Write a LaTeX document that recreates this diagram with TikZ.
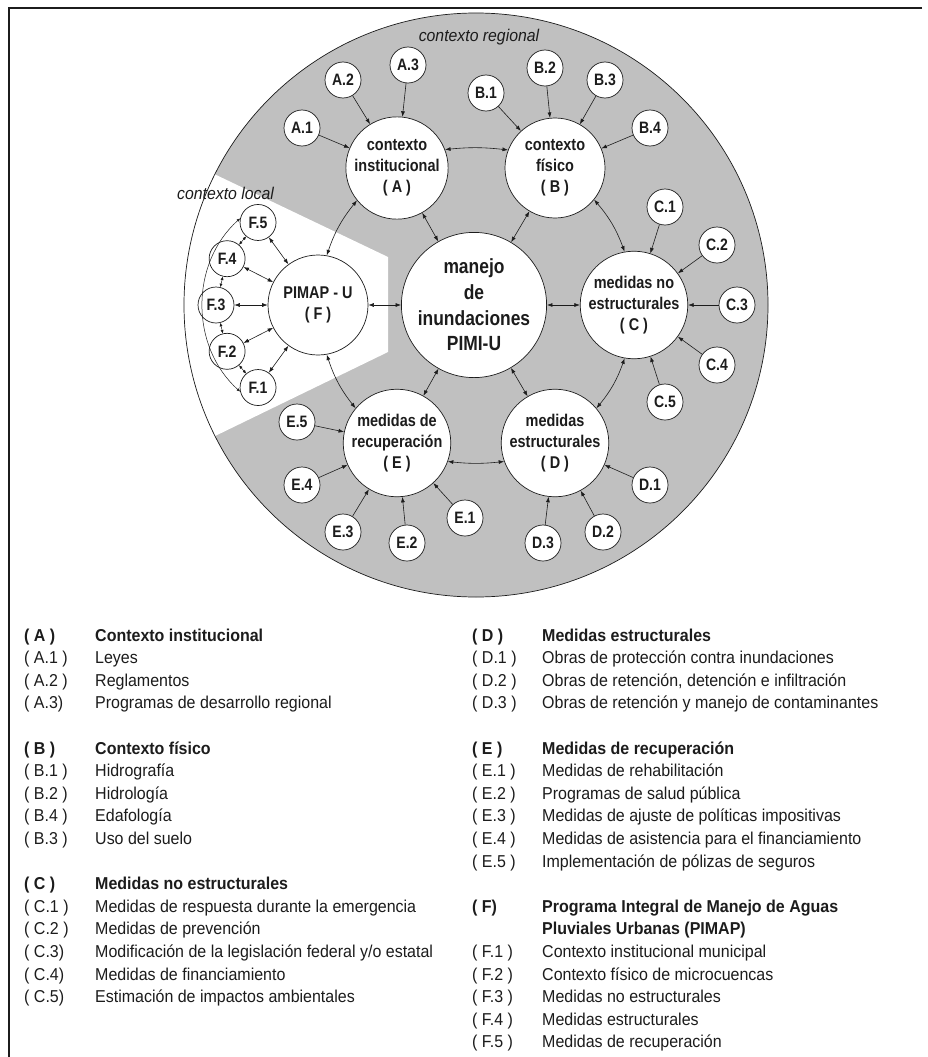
\documentclass[tikz,border=0pt]{standalone}
\usepackage{fontspec}
\setmainfont{Liberation Sans}[FakeStretch=0.93]
\newfontfamily\narrowfont{Liberation Sans}[FakeStretch=0.85]
\usetikzlibrary{arrows.meta,calc}
\definecolor{regiongray}{RGB}{192,192,192}
\definecolor{ink}{RGB}{28,28,28}
\begin{document}
\begin{tikzpicture}[x=1pt,y=1pt,
  bigc/.style={circle,draw=ink,line width=0.7pt,fill=white,minimum size=100pt,inner sep=0pt,align=center,font=\narrowfont\bfseries\fontsize{17}{21}\selectfont,text=ink},
  midc/.style={bigc,minimum size=132pt,font=\narrowfont\bfseries\fontsize{20.5}{25.7}\selectfont},
  smallc/.style={circle,draw=ink,line width=0.7pt,fill=white,minimum size=36pt,inner sep=0pt,font=\narrowfont\bfseries\fontsize{16.5}{18}\selectfont,text=ink},
  spoke/.style={-{Latex[length=5.5pt,width=4pt]},line width=0.6pt,draw=ink},
  link/.style={{Latex[length=5.5pt,width=4pt]}-{Latex[length=5.5pt,width=4pt]},line width=0.6pt,draw=ink},
  flink/.style={{Latex[length=3.5pt,width=3pt]}-{Latex[length=3.5pt,width=3pt]},line width=0.5pt,draw=ink},
  legl/.style={anchor=base west,inner sep=0pt,font=\fontsize{17.2}{20}\selectfont,text=ink},
  legh/.style={anchor=base west,inner sep=0pt,font=\bfseries\fontsize{17.2}{20}\selectfont,text=ink},
  ctx/.style={inner sep=0pt,font=\itshape\fontsize{17}{20}\selectfont,text=ink}
]
\useasboundingbox (0,0) rectangle (927,-1057);
\fill[white] (0,0) rectangle (927,-1057);
\draw[line width=1.8pt,ink] (922,-8) -- (9,-8) -- (9,-1057);

% regional disc and local wedge
\coordinate (O) at (476,-305);
\fill[regiongray] (O) circle (292);
\begin{scope}
  \clip (O) circle (292);
  \fill[white] (388,-257) -- (150,-143.4) -- (150,-467.6) -- (388,-352) -- cycle;
\end{scope}
\draw[ink,line width=0.7pt] (O) circle (292);

% main circles
\node[bigc] (A) at (397,-168) {contexto\\institucional\\( A )};
\node[bigc] (B) at (555,-168) {contexto\\físico\\( B )};
\node[bigc] (C) at (634,-305) {medidas no\\estructurales\\( C )};
\node[bigc] (D) at (555,-443) {medidas\\estructurales\\( D )};
\node[bigc] (E) at (397,-443) {medidas de\\recuperación\\( E )};
\node[bigc] (F) at (318,-305) {PIMAP - U\\( F )};
\node[midc] (M) at (474,-305) {manejo\\de\\inundaciones\\PIMI-U};

% small circles
\node[smallc] (a1) at (302,-128) {A.1};
\node[smallc] (a2) at (343,-80) {A.2};
\node[smallc] (a3) at (408,-65) {A.3};
\node[smallc] (b1) at (486,-93) {B.1};
\node[smallc] (b2) at (545,-68) {B.2};
\node[smallc] (b3) at (605,-80) {B.3};
\node[smallc] (b4) at (650,-128) {B.4};
\node[smallc] (c1) at (665,-207) {C.1};
\node[smallc] (c2) at (717,-245) {C.2};
\node[smallc] (c3) at (737,-305) {C.3};
\node[smallc] (c4) at (717,-365) {C.4};
\node[smallc] (c5) at (665,-402) {C.5};
\node[smallc] (d1) at (650,-485) {D.1};
\node[smallc] (d2) at (603,-532) {D.2};
\node[smallc] (d3) at (543,-543) {D.3};
\node[smallc] (e1) at (465,-518) {E.1};
\node[smallc] (e2) at (407,-543) {E.2};
\node[smallc] (e3) at (343,-532) {E.3};
\node[smallc] (e4) at (302,-485) {E.4};
\node[smallc] (e5) at (297,-422) {E.5};
\node[smallc] (f5) at ($(F)+(126:102)$) {F.5};
\node[smallc] (f4) at ($(F)+(153:102)$) {F.4};
\node[smallc] (f3) at ($(F)+(180:102)$) {F.3};
\node[smallc] (f2) at ($(F)+(207:102)$) {F.2};
\node[smallc] (f1) at ($(F)+(234:102)$) {F.1};

% context labels
\node[ctx,anchor=base] (reg) at (479,-41.5) {contexto regional};
\node[ctx,anchor=base west] (loc) at (177,-199.5) {contexto local};

% spokes
\foreach \s in {a1,a2,a3} \draw[spoke] (\s) -- (A);
\foreach \s in {b1,b2,b3,b4} \draw[spoke] (\s) -- (B);
\foreach \s in {c1,c2,c3,c4,c5} \draw[spoke] (\s) -- (C);
\foreach \s in {d1,d2,d3} \draw[spoke] (\s) -- (D);
\foreach \s in {e1,e2,e3,e4,e5} \draw[spoke] (\s) -- (E);

% main links
\draw[link] (A.21) to[bend left=6] (B.159);
\draw[link] (E.-20) to[bend right=6] (D.200);
\draw[link] (B.-39) to[bend left=10] (C.100);
\draw[link] (C.-100) to[bend left=10] (D.40);
\draw[link] (A.219) to[bend right=10] (F.80);
\draw[link] (F.-80) to[bend right=10] (E.140);
\foreach \t in {A,B,C,D,E,F} \draw[link] (M) -- (\t);

% local links
\foreach \s in {f1,f2,f3,f4,f5} \draw[link] (\s) -- (F);
\draw[flink] (f5) -- (f4);
\draw[flink] (f4) -- (f3);
\draw[flink] (f3) -- (f2);
\draw[flink] (f2) -- (f1);
\draw[flink] (f5.167) to[out=222,in=138] (f1.193);

% legend, left column
\node[legh] (lA) at (24,-641) {( A )};
\node[legh] (tA) at (95,-641) {Contexto institucional};
\node[legh] (lB) at (24,-754) {( B )};
\node[legh] (tB) at (95,-754) {Contexto físico};
\node[legh] (lC) at (24,-889.6) {( C )};
\node[legh] (tC) at (95,-889.6) {Medidas no estructurales};
\foreach \n/\lab/\txt in {1/( A.1 )/Leyes, 2/( A.2 )/Reglamentos, 3/( A.3)/Programas de desarrollo regional,
  6/( B.1 )/Hidrografía, 7/( B.2 )/Hidrología, 8/( B.4 )/Edafología, 9/( B.3 )/Uso del suelo,
  12/( C.1 )/Medidas de respuesta durante la emergencia, 13/( C.2 )/Medidas de prevención,
  14/( C.3)/{Modificación de la legislación federal y/o estatal}, 15/( C.4)/Medidas de financiamiento,
  16/( C.5)/Estimación de impactos ambientales}
{
  \node[legl] (ll\n) at (24,{-641-22.6*\n}) {\lab};
  \node[legl] (lt\n) at (95,{-641-22.6*\n}) {\txt};
}

% legend, right column
\node[legh] (lD) at (472,-641) {( D )};
\node[legh] (tD) at (542,-641) {Medidas estructurales};
\node[legh] (lE) at (472,-754) {( E )};
\node[legh] (tE) at (542,-754) {Medidas de recuperación};
\node[legh] (lF) at (472,-912.2) {( F)};
\node[legh] (tF) at (542,-912.2) {Programa Integral de Manejo de Aguas};
\node[legh] (tF2) at (542,-934.8) {Pluviales Urbanas (PIMAP)};
\foreach \n/\lab/\txt in {1/( D.1 )/Obras de protección contra inundaciones,
  2/( D.2 )/{Obras de retención, detención e infiltración},
  3/( D.3 )/Obras de retención y manejo de contaminantes,
  6/( E.1 )/Medidas de rehabilitación, 7/( E.2 )/Programas de salud pública,
  8/( E.3 )/Medidas de ajuste de políticas impositivas,
  9/( E.4 )/Medidas de asistencia para el financiamiento,
  10/( E.5 )/Implementación de pólizas de seguros,
  14/( F.1 )/Contexto institucional municipal, 15/( F.2 )/Contexto físico de microcuencas,
  16/( F.3 )/Medidas no estructurales, 17/( F.4 )/Medidas estructurales,
  18/( F.5 )/Medidas de recuperación}
{
  \node[legl] (rl\n) at (472,{-641-22.6*\n}) {\lab};
  \node[legl] (rt\n) at (542,{-641-22.6*\n}) {\txt};
}
\end{tikzpicture}
\end{document}
